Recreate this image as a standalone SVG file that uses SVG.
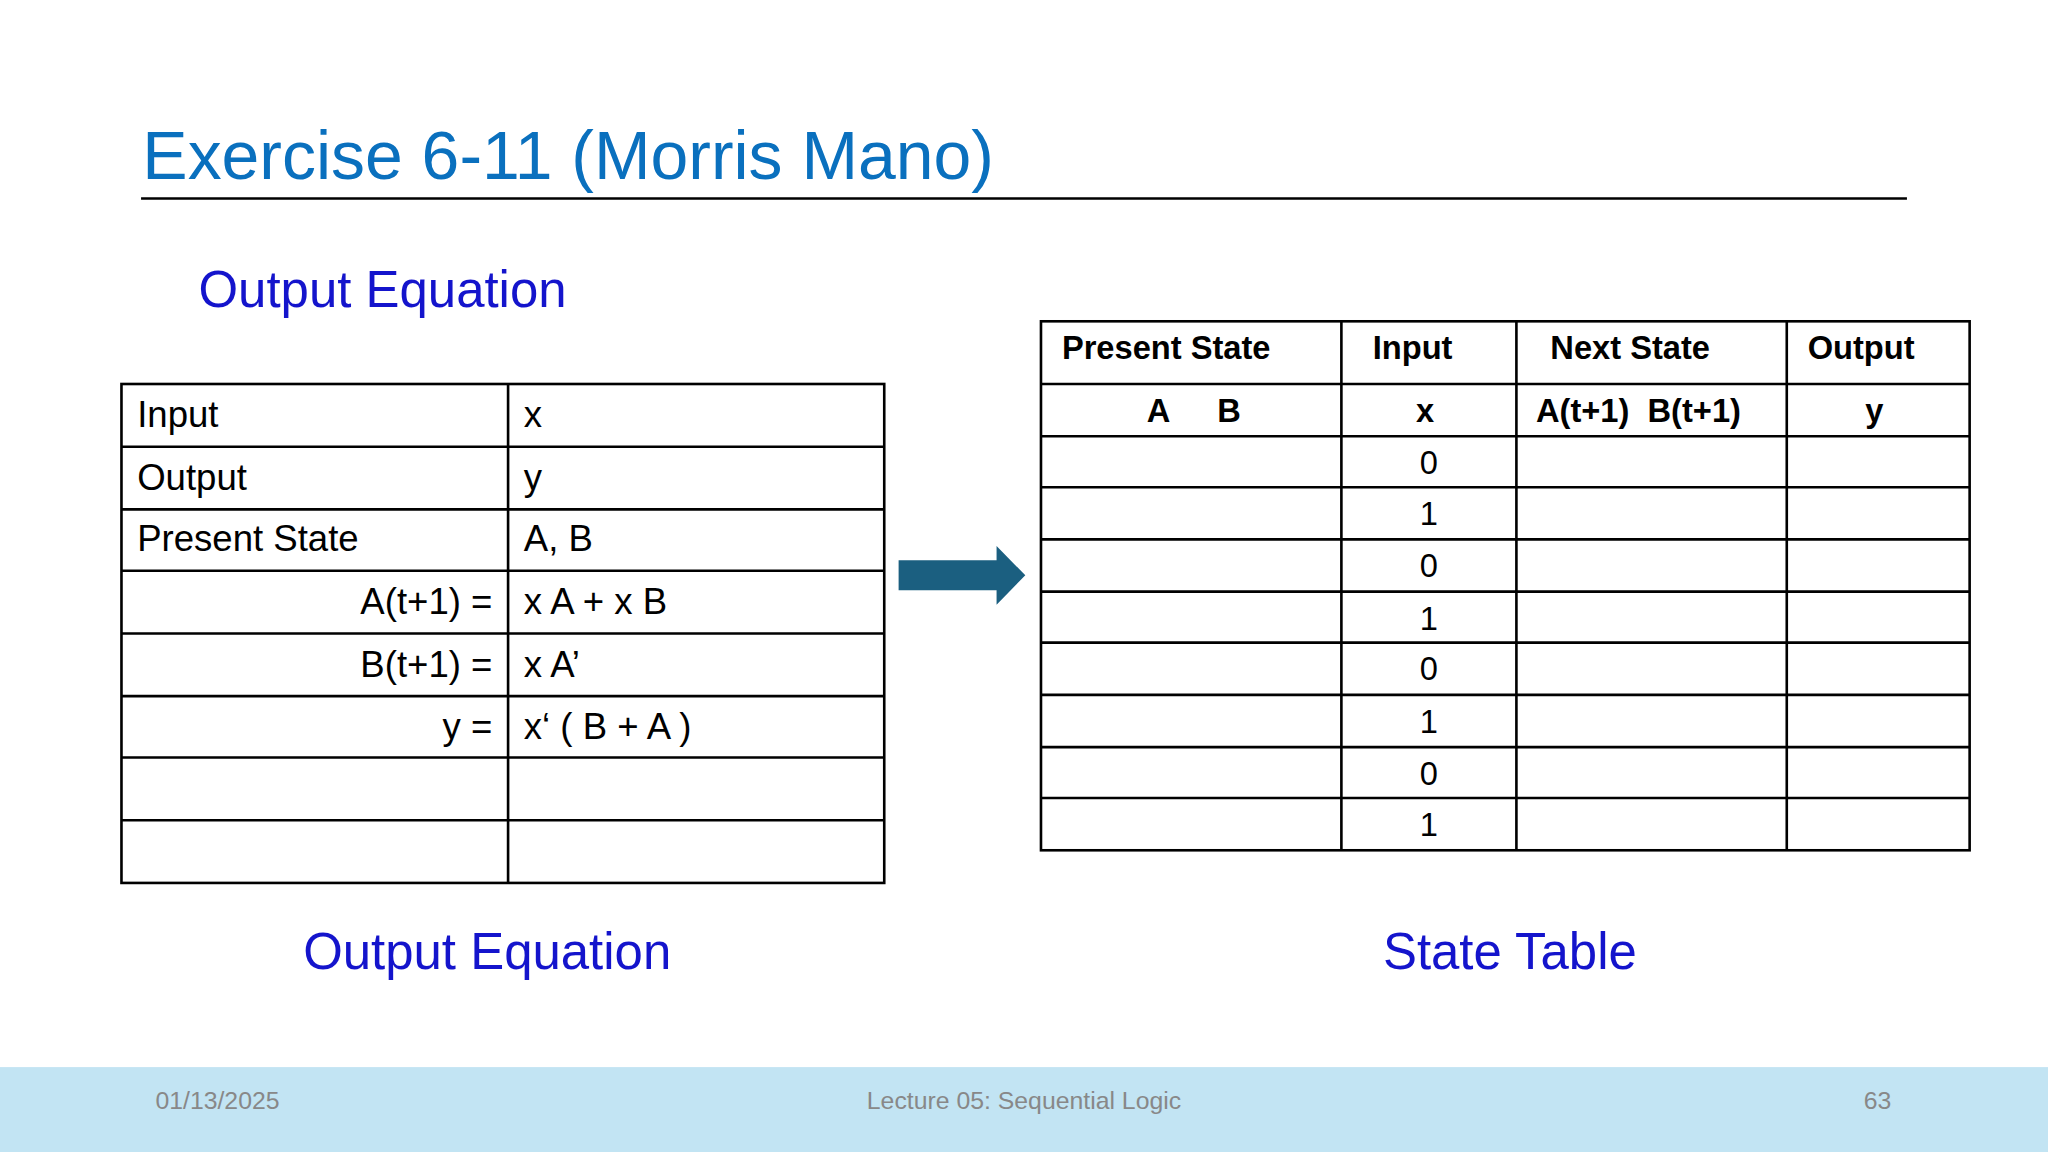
<svg xmlns="http://www.w3.org/2000/svg" width="2048" height="1152" viewBox="0 0 2048 1152">
<style>
text{font-family:"Liberation Sans",Arial,sans-serif}
.t{font-size:28px;fill:#000}
.h{font-size:25px;font-weight:bold;fill:#000}
.c{font-size:25px;fill:#000;text-anchor:middle}
.blue{font-size:39px;fill:#1414CC}
.f{font-size:19px;fill:#888}
.g{stroke:#000;stroke-width:2;fill:none}
</style>
<rect width="2048" height="1152" fill="#fff"/>
<g transform="scale(1.30612)">
<g id="title">
<text x="109" y="137" style="font-size:52px;fill:#0A70BE">Exercise 6-11 (Morris Mano)</text>
<line x1="108" y1="152" x2="1460" y2="152" stroke="#000" stroke-width="2"/>
</g>
<text class="blue" x="152" y="235">Output Equation</text>
<g id="left-table">
<rect class="g" x="93" y="294" width="584" height="382"/>
<path class="g" d="M389 294V676M93 342H677M93 390H677M93 437H677M93 485H677M93 533H677M93 580H677M93 628H677"/>
<text class="t" x="105" y="327">Input</text><text class="t" x="401" y="327">x</text>
<text class="t" x="105" y="375">Output</text><text class="t" x="401" y="375">y</text>
<text class="t" x="105" y="422">Present State</text><text class="t" x="401" y="422">A, B</text>
<text class="t" x="377" y="470" text-anchor="end">A(t+1) =</text><text class="t" x="401" y="470">x A + x B</text>
<text class="t" x="377" y="518" text-anchor="end">B(t+1) =</text><text class="t" x="401" y="518">x A’</text>
<text class="t" x="377" y="566" text-anchor="end">y =</text><text class="t" x="401" y="566">x‘ ( B + A )</text>
</g>
<g id="connectors">
<path d="M688 429H763V418L785 440.5L763 463V452H688Z" fill="#1B5F80"/>
</g>
<g id="state-table">
<rect class="g" x="797" y="246" width="711" height="405" stroke-width="2.5"/>
<path class="g" stroke-width="2.5" d="M1027 246V651M1161 246V651M1368 246V651M797 294H1508M797 334H1508M797 373H1508M797 413H1508M797 453H1508M797 492H1508M797 532H1508M797 572H1508M797 611H1508"/>
<text class="h" x="813" y="275">Present State</text>
<text class="h" x="1051" y="275">Input</text>
<text class="h" x="1187" y="275">Next State</text>
<text class="h" x="1384" y="275">Output</text>
<text class="h" x="878" y="323">A</text><text class="h" x="932" y="323">B</text>
<text class="h" x="1091" y="323" text-anchor="middle">x</text>
<text class="h" x="1176" y="323" xml:space="preserve">A(t+1)  B(t+1)</text>
<text class="h" x="1435" y="323" text-anchor="middle">y</text>
<text class="c" x="1094" y="363">0</text>
<text class="c" x="1094" y="402">1</text>
<text class="c" x="1094" y="442">0</text>
<text class="c" x="1094" y="482">1</text>
<text class="c" x="1094" y="521">0</text>
<text class="c" x="1094" y="561">1</text>
<text class="c" x="1094" y="601">0</text>
<text class="c" x="1094" y="640">1</text>
</g>
<text class="blue" x="373" y="742" text-anchor="middle">Output Equation</text>
<text class="blue" x="1156" y="742" text-anchor="middle">State Table</text>
<g id="footer">
<rect x="0" y="817" width="1568" height="66" fill="#C2E4F3"/>
<text class="f" x="119" y="849">01/13/2025</text>
<text class="f" x="784" y="849" text-anchor="middle">Lecture 05: Sequential Logic</text>
<text class="f" x="1448" y="849" text-anchor="end">63</text>
</g>
</g>
</svg>
